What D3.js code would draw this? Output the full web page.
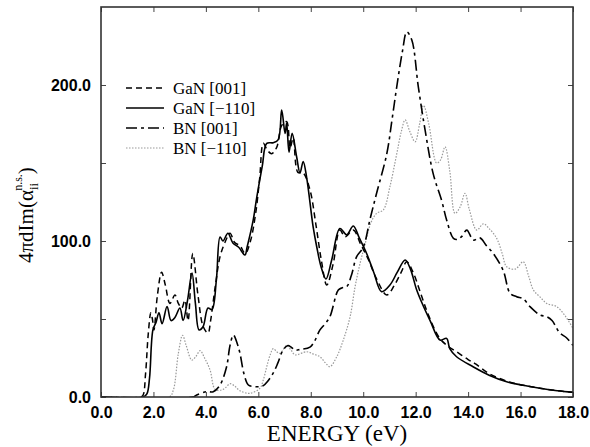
<!DOCTYPE html>
<html><head><meta charset="utf-8">
<script src="https://cdn.jsdelivr.net/npm/d3@7"></script>
<style>html,body{margin:0;padding:0;background:#fff;}</style>
</head><body>
<svg id="chart" width="590" height="447"></svg>
<script>
// ---- data ----
const xTicks = [0, 2, 4, 6, 8, 10, 12, 14, 16, 18];
const yTicks = [0, 50, 100, 150, 200];
const yLabelTicks = [0, 100, 200];
const seriesNames = ["GaN [001]", "GaN [\u2212110]", "BN [001]", "BN [\u2212110]"];

const ganSolidE = [0,1.6,1.75,1.85,1.98,2.1,2.21,2.33,2.52,2.67,2.82,3.01,3.13,3.3,3.47,3.6,3.74,3.89,4.08,4.23,4.4,4.54,4.65,4.84,5.03,5.25,5.49,5.57,5.8,5.94,6.15,6.32,6.57,6.76,6.89,7.02,7.08,7.17,7.29,7.46,7.59,7.71,7.84,8.09,8.23,8.4,8.58,8.8,9.11,9.37,9.62,9.85,10.13,10.4,10.7,11.02,11.3,11.6,11.8,12.04,12.3,12.55,12.93,13.18,13.3,13.56,14.19,14.8,15.47,16.1,16.74,17.4,18];
const ganSolidV = [0,0,2,12,43,48,54,47,58,49,51,57,49,62,79.5,60,43,45,57,56,75,102.6,100,105,98.7,96,91,96,113,128,148,162.6,163,165,184,169,175.6,157,169,154,143.6,151,141,109,96,83,75.6,88,108,104,109.6,102,92,80,67.5,71.8,80,87.8,82,68.6,58,49,36.5,37.6,31,25.8,19.4,14,9.8,7.5,5.6,4,3];

const ganDashE = [0,1.5,1.6,1.7,1.8,1.9,1.96,2.02,2.15,2.31,2.45,2.63,2.82,2.95,3.08,3.2,3.32,3.5,3.7,3.9,4.08,4.18,4.35,4.54,4.75,4.92,5.1,5.3,5.5,5.7,5.9,6.05,6.19,6.35,6.51,6.7,6.89,7.08,7.21,7.33,7.51,7.71,7.97,8.2,8.4,8.61,8.85,9.11,9.31,9.62,9.9,10.2,10.5,10.9,11.2,11.45,11.66,11.9,12.2,12.5,12.9,13.2,13.56,14.0,14.3,14.8,15.5,16.1,16.8,17.4,18];
const ganDashV = [0,0,1,15,40,54,50,43,65,80,72,60,65.4,60,57,62,49,92,65,45,41,49,70,90,100,105,99,97,92,100,118,140,162.6,158,156,160,174,176.5,159.6,166,144,143.6,132.7,110,88,71.8,85,107,102.7,107,98,88,76,65.4,72,80,86.7,80,66,52,38,33,29,24,21,15,10,7.5,5.5,4,3];

const bnDashDotE = [0,3.5,3.65,4.03,4.28,4.54,4.79,4.92,5.05,5.2,5.3,5.45,5.62,5.8,6.06,6.19,6.35,6.57,6.75,6.94,7.13,7.25,7.4,7.6,7.97,8.15,8.35,8.55,8.73,9.05,9.2,9.37,9.55,9.75,10.0,10.26,10.5,10.9,11.1,11.28,11.5,11.66,11.85,12.1,12.36,12.67,12.99,13.18,13.44,13.6,13.76,13.95,14.2,14.45,14.7,14.96,15.34,15.6,15.85,16.1,16.36,16.74,17.0,17.2,17.5,17.75,18.0];
const bnDashDotV = [0,0,1.3,3.4,3.4,7.7,19.4,33,39.7,34,28,15,7.7,6.8,6.6,7.3,10,15.4,22,30,33,32,30,30.5,32,36,43,47,51.5,68.6,70,70.7,78,90,96,114,130,156,178,199,222,234,229,199,171,143,126,113.5,101.7,101,103,107,100.6,102,97,92,81,66.5,64.3,63,57.9,52.6,51.5,49,41,38,33];

const bnDotE = [0,2.6,2.76,2.95,3.11,3.25,3.46,3.62,3.78,3.95,4.16,4.35,4.6,4.75,4.92,5.1,5.3,5.68,6.06,6.19,6.32,6.45,6.57,6.7,6.83,7.08,7.25,7.4,7.84,8.1,8.35,8.55,8.73,8.99,9.24,9.5,9.69,9.88,10.07,10.3,10.51,10.77,11.02,11.28,11.45,11.6,11.78,11.98,12.15,12.3,12.5,12.8,12.95,13.12,13.3,13.5,13.7,13.88,14.05,14.33,14.58,14.8,15.09,15.3,15.47,15.8,16.1,16.3,16.49,16.75,17.0,17.38,17.7,18.0];
const bnDotV = [0,0,4.5,28,39.5,33,23.7,26,29.7,25,17.3,5,4.5,6,8.5,7,4,2.4,5.6,10.9,19.4,27,31,29,28,33,30,27,29,27.5,25.8,22,19.4,25.8,36.5,51.5,70.7,85.7,98,112,117.7,120,135,156,170,177.6,170,163.6,175,187,175,150,152,160.4,145,117.7,122,130.6,120,107,111,108,101.7,92,83.5,82,86.7,78,68.6,64,60,57.9,52,44];

// ---- layout ----
const svg = d3.select("#chart");
const L = 101, R = 573, T = 7, B = 397;
const x = d3.scaleLinear().domain([0, 18]).range([L, R]);
const y = d3.scaleLinear().domain([0, 250]).range([B, T]);

const styles = [
  {E: ganDashE, V: ganDashV, stroke: "#000", width: 1.5, dash: "6,4"},
  {E: ganSolidE, V: ganSolidV, stroke: "#000", width: 1.6, dash: null},
  {E: bnDashDotE, V: bnDashDotV, stroke: "#000", width: 1.6, dash: "11,4,3,4"},
  {E: bnDotE, V: bnDotV, stroke: "#999", width: 1.2, dash: "1.5,1.5"}
];

const line = d3.line().x(d => x(d[0])).y(d => y(Math.max(0, d[1]))).curve(d3.curveCatmullRom.alpha(0.5));

const plot = svg.append("g");
plot.append("defs").append("clipPath").attr("id", "clip")
  .append("rect").attr("x", L).attr("y", T).attr("width", R - L).attr("height", B - T);

const curves = plot.append("g").attr("clip-path", "url(#clip)");
styles.slice().reverse().forEach(s => {
  const pts = s.E.map((e, i) => [e, s.V[i]]);
  curves.append("path").datum(pts)
    .attr("d", line)
    .attr("fill", "none")
    .attr("stroke", s.stroke)
    .attr("stroke-width", s.width)
    .attr("stroke-dasharray", s.dash)
    .attr("stroke-linejoin", "round");
});

// axes (inward ticks on all sides)
const tickLen = 5;
const fmt = d3.format(".1f");
const axB = d3.axisBottom(x).tickValues(xTicks).tickSize(-tickLen).tickPadding(10).tickFormat(fmt);
const axT = d3.axisTop(x).tickValues(xTicks).tickSize(-tickLen).tickFormat("");
const axL = d3.axisLeft(y).tickValues(yTicks).tickSize(-tickLen).tickPadding(10)
  .tickFormat(d => yLabelTicks.includes(d) ? fmt(d) : "");
const axR = d3.axisRight(y).tickValues(yTicks).tickSize(-tickLen).tickFormat("");

function styleAxis(g) {
  g.select(".domain").remove();
  g.selectAll(".tick line").attr("stroke", "#444").attr("stroke-width", 1);
  g.selectAll(".tick text").attr("fill", "#000")
    .style("font-family", "'Liberation Sans', Arial, sans-serif")
    .style("font-weight", "bold").style("font-size", "16px");
}
svg.append("g").attr("transform", `translate(0,${B})`).call(axB).call(styleAxis)
  .selectAll(".tick text").attr("dy", "0.71em");
svg.append("g").attr("transform", `translate(0,${T})`).call(axT).call(styleAxis);
svg.append("g").attr("transform", `translate(${L},0)`).call(axL).call(styleAxis);
svg.append("g").attr("transform", `translate(${R},0)`).call(axR).call(styleAxis);

// frame
svg.append("rect").attr("x", L).attr("y", T).attr("width", R - L).attr("height", B - T)
  .attr("fill", "none").attr("stroke", "#333").attr("stroke-width", 1.6);

// legend
const legend = svg.append("g");
seriesNames.forEach((name, i) => {
  const s = styles[i];
  const cy = 88 + i * 20;
  legend.append("line").attr("x1", 126).attr("x2", 164).attr("y1", cy).attr("y2", cy)
    .attr("stroke", s.stroke).attr("stroke-width", s.width).attr("stroke-dasharray", s.dash);
  legend.append("text").attr("x", 173).attr("y", cy + 6).text(name)
    .style("font-family", "'Liberation Serif', 'Times New Roman', serif")
    .style("font-size", "17px").attr("fill", "#000");
});

// axis titles
svg.append("text").attr("x", (L + R) / 2).attr("y", 441).attr("text-anchor", "middle")
  .style("font-family", "'Liberation Serif', 'Times New Roman', serif")
  .style("font-size", "23px").attr("fill", "#000").text("ENERGY (eV)");

const yl = svg.append("text").attr("transform", "translate(33,263) rotate(-90)")
  .style("font-family", "'Liberation Serif', 'Times New Roman', serif")
  .style("font-size", "21px").attr("fill", "#000");
yl.append("tspan").text("4\u03c0dIm(\u03b1");
yl.append("tspan").attr("dy", 5).style("font-size", "13px").text("ii");
yl.append("tspan").attr("dx", -8).attr("dy", -16).style("font-size", "12px").text("n.s.");
yl.append("tspan").attr("dy", 11).text(")");
</script>
</body></html>
